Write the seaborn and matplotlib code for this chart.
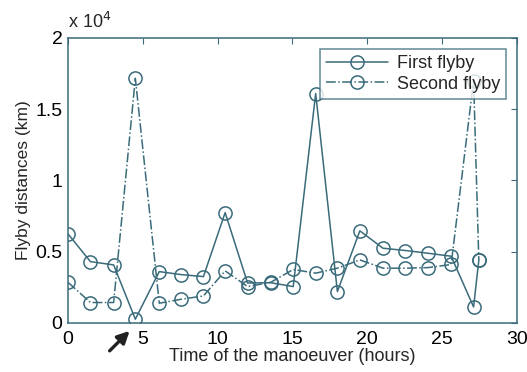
import matplotlib
matplotlib.use("Agg")
import matplotlib.pyplot as plt
import seaborn as sns
import pandas as pd
from matplotlib.ticker import FuncFormatter

hours = [0, 1.5, 3.05, 4.5, 6.1, 7.55, 9.05, 10.5, 12.0, 13.55, 15.05, 16.55,
         18.0, 19.5, 21.05, 22.55, 24.05, 25.6, 27.1, 27.45]
first_flyby = [6250, 4300, 4070, 260, 3600, 3390, 3250, 7740, 2800, 2820, 2550, 16100,
               2200, 6460, 5240, 5080, 4890, 4680, 1120, 4400]
second_flyby = [2850, 1430, 1430, 17170, 1380, 1660, 1890, 3650, 2550, 2850, 3750, 3490,
                3840, 4420, 3840, 3840, 3880, 4100, 17000, 4400]
x_ticks = [0, 5, 10, 15, 20, 25, 30]
y_ticks = [0, 5000, 10000, 15000, 20000]

sns.set_style("white")
plt.rcParams['font.family'] = ['Liberation Sans', 'DejaVu Sans']

col = '#3a6b7a'
fig = plt.figure(figsize=(5.27, 3.72), dpi=100)
ax = fig.add_axes([0.129, 0.132, 0.852, 0.766])

df1 = pd.DataFrame({'t': hours, 'd': first_flyby})
df2 = pd.DataFrame({'t': hours, 'd': second_flyby})
sns.lineplot(data=df1, x='t', y='d', ax=ax, color=col, linewidth=1.1, marker='o',
             markersize=9.5, markerfacecolor='none', markeredgecolor=col, markeredgewidth=1.1,
             linestyle='-', label='First flyby', sort=False, estimator=None)
sns.lineplot(data=df2, x='t', y='d', ax=ax, color=col, linewidth=1.1, marker='o',
             markersize=9.5, markerfacecolor='none', markeredgecolor=col, markeredgewidth=1.1,
             linestyle='-.', label='Second flyby', sort=False, estimator=None)

ax.set_xlim(0, 30)
ax.set_ylim(0, 20000)
ax.set_xticks(x_ticks)
ax.set_yticks(y_ticks)
ax.yaxis.set_major_formatter(FuncFormatter(lambda v, p: f"{v/1e4:g}"))
ax.tick_params(direction='in', top=True, right=True, length=4, width=0.8, color=col,
               labelsize=14, labelcolor='black')
ax.tick_params(axis='x', pad=6)
ax.tick_params(axis='y', pad=4)
for s in ax.spines.values():
    s.set_color(col)
    s.set_linewidth(1.1)
ax.set_xlabel('Time of the manoeuver (hours)', fontsize=13, labelpad=0)
ax.set_ylabel('Flyby distances (km)', fontsize=12.5, labelpad=3)
ax.text(0.0, 1.02, r'x 10$^4$', transform=ax.transAxes, fontsize=13, ha='left', va='bottom')

leg = ax.legend(loc='upper right', fontsize=13, frameon=True, fancybox=False,
                edgecolor=col, handlelength=3.4, borderpad=0.35, labelspacing=0.2,
                handletextpad=0.5, borderaxespad=0.6)
leg.get_frame().set_linewidth(1.1)

ax.annotate('', xy=(4.25, -420), xytext=(2.65, -2100), xycoords='data',
            annotation_clip=False,
            arrowprops=dict(arrowstyle='-|>', color='#222222', lw=2.4, mutation_scale=18))

fig.savefig('out.png', dpi=100)
